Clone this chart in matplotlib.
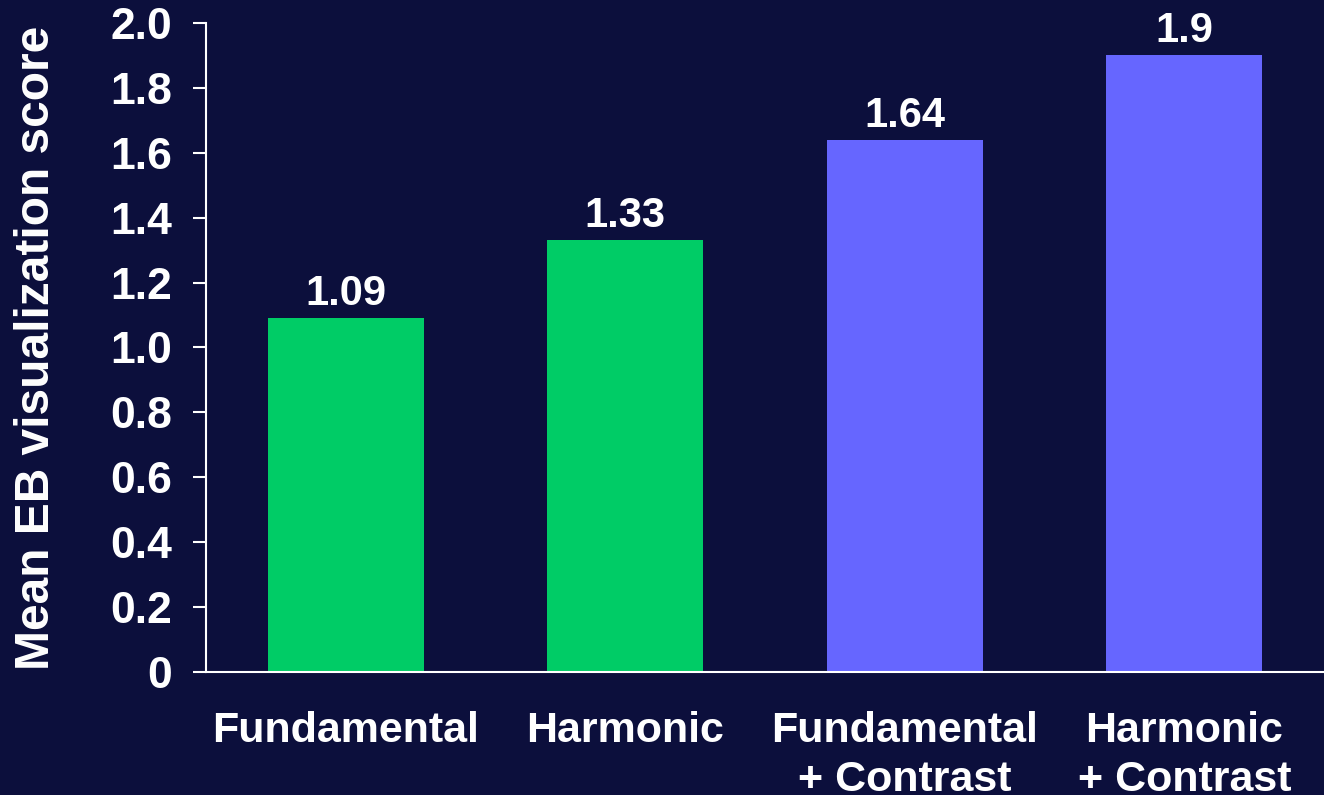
import numpy as np
import matplotlib
matplotlib.use("Agg")
import matplotlib.pyplot as plt

# mean EB visualization score per imaging mode
categories = ["Fundamental", "Harmonic", "Fundamental\n+ Contrast", "Harmonic\n+ Contrast"]
scores = [1.09, 1.33, 1.64, 1.9]
score_labels = ["1.09", "1.33", "1.64", "1.9"]
bar_colors = ["#00cc66", "#00cc66", "#6666ff", "#6666ff"]
yticks = [0, 0.2, 0.4, 0.6, 0.8, 1.0, 1.2, 1.4, 1.6, 1.8, 2.0]
ytick_labels = ["0", "0.2", "0.4", "0.6", "0.8", "1.0", "1.2", "1.4", "1.6", "1.8", "2.0"]

bg = "#0c0f3c"
plt.rcParams['font.family'] = ['Liberation Sans', 'DejaVu Sans']
plt.rcParams['font.weight'] = 'bold'

fig = plt.figure(figsize=(13.24, 7.95), dpi=100, facecolor=bg)
ax = fig.add_axes([0.1556, 0.1547, 0.8444, 0.8164], facecolor=bg)

x = np.arange(len(categories))
bars = ax.bar(x, scores, width=0.557, color=bar_colors, zorder=2)

# value labels above each bar
for b, lab in zip(bars, score_labels):
    ax.annotate(lab, (b.get_x() + b.get_width() / 2, b.get_height()),
                xytext=(0, 3), textcoords="offset points",
                ha="center", va="bottom", color="white",
                fontsize=30, fontweight="bold")

ax.set_xlim(-0.5, 3.5)
ax.set_ylim(0, 2.0)
ax.set_yticks(yticks)
ax.set_yticklabels(ytick_labels)
ax.set_xticks(x)
ax.set_xticklabels(categories, linespacing=1.3)

for s in ["top", "right"]:
    ax.spines[s].set_visible(False)
for s in ["left", "bottom"]:
    ax.spines[s].set_color("white")
    ax.spines[s].set_linewidth(1.5)
ax.spines["bottom"].set_zorder(3)

ax.tick_params(axis="y", colors="white", labelsize=32, length=9.5, width=1.5,
               direction="out", pad=15)
ax.tick_params(axis="x", colors="white", labelsize=31, length=0, pad=28)
for t in ax.get_xticklabels() + ax.get_yticklabels():
    t.set_fontweight("bold")

ax.set_ylabel("Mean EB visualization score", color="white", fontsize=34.5,
              fontweight="bold", labelpad=37)

fig.savefig("out.png", dpi=100, facecolor=bg)
